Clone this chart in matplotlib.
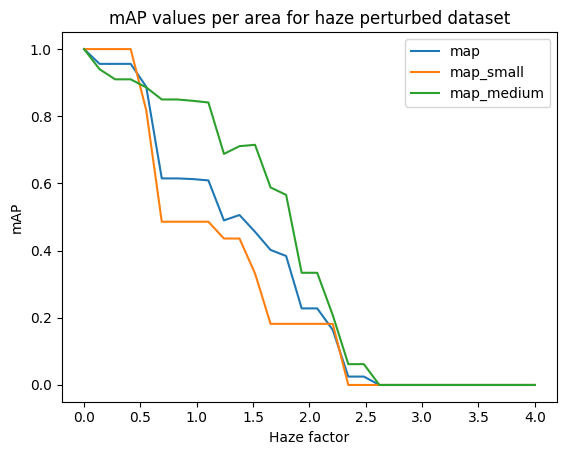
import matplotlib
matplotlib.use('Agg')
import matplotlib.pyplot as plt
import numpy as np

# Haze factor values (30 steps from 0 to 4)
haze = np.linspace(0, 4, 30)

map_all = [1.0, 0.956, 0.956, 0.956, 0.888, 0.615, 0.615, 0.613, 0.609, 0.49,
           0.506, 0.456, 0.402, 0.384, 0.228, 0.228, 0.164, 0.025, 0.025, 0.0,
           0.0, 0.0, 0.0, 0.0, 0.0, 0.0, 0.0, 0.0, 0.0, 0.0]
map_small = [1.0, 1.0, 1.0, 1.0, 0.818, 0.486, 0.486, 0.486, 0.486, 0.436,
             0.436, 0.332, 0.182, 0.182, 0.182, 0.182, 0.182, 0.0, 0.0, 0.0,
             0.0, 0.0, 0.0, 0.0, 0.0, 0.0, 0.0, 0.0, 0.0, 0.0]
map_medium = [1.0, 0.94, 0.91, 0.91, 0.886, 0.85, 0.85, 0.846, 0.841, 0.688,
              0.711, 0.715, 0.588, 0.566, 0.334, 0.334, 0.208, 0.062, 0.062, 0.0,
              0.0, 0.0, 0.0, 0.0, 0.0, 0.0, 0.0, 0.0, 0.0, 0.0]

fig, ax = plt.subplots(figsize=(5.67, 4.55), dpi=100)
fig.subplots_adjust(left=0.1085, right=0.983, top=0.929, bottom=0.117)

ax.plot(haze, map_all, label='map')
ax.plot(haze, map_small, label='map_small')
ax.plot(haze, map_medium, label='map_medium')

ax.set_title('mAP values per area for haze perturbed dataset')
ax.set_xlabel('Haze factor')
ax.set_ylabel('mAP')
ax.legend()

plt.savefig('out.png')
